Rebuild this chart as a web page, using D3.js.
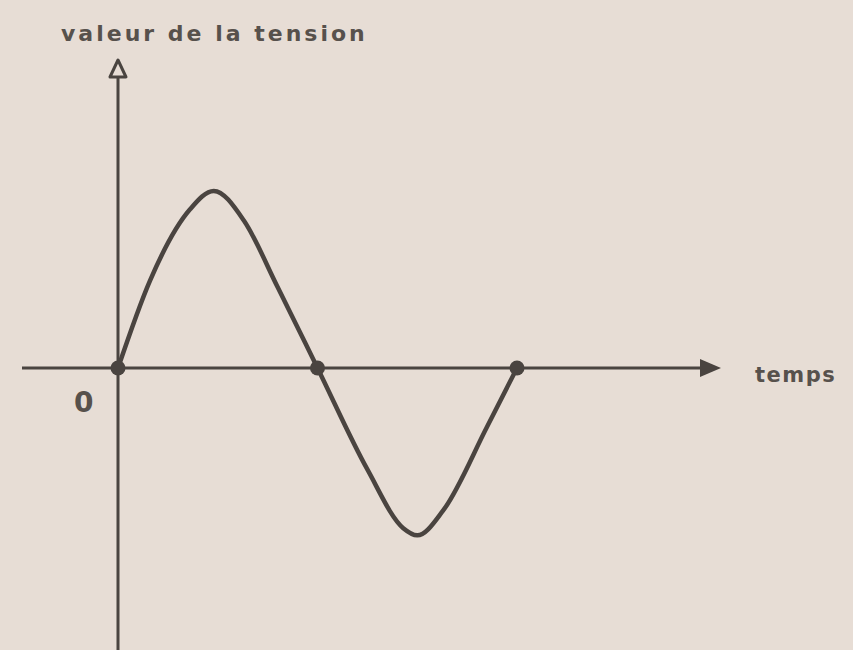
<!DOCTYPE html>
<html>
<head>
<meta charset="utf-8">
<script src="https://cdn.jsdelivr.net/npm/d3@7"></script>
<style>
  body { margin: 0; background: #e7ddd5; }
  svg { display: block; }
  .lbl { font-family: 'DejaVu Sans', sans-serif; font-weight: bold; fill: #57514c; }
</style>
</head>
<body>
<div id="chart"></div>
<script>
// Data (time in half-periods, tension relative to the peak)
const temps = [0, 0.16, 0.36, 0.48, 0.63, 0.8, 1, 1.25, 1.43, 1.5, 1.63, 1.85, 2];
const tension = [0, 0.49, 0.89, 0.995, 0.83, 0.455, 0, -0.57, -0.9, -0.94, -0.8, -0.33, 0];
const zeroPoints = [0, 1, 2];

const width = 853;
const height = 650;
const ink = '#4a4440';

const xScale = d3.scaleLinear([0, 2], [118, 517]);
const yScale = d3.scaleLinear([-1, 1], [546, 190]);

const svg = d3
  .select('#chart')
  .append('svg')
  .attr('width', width)
  .attr('height', height);

const x0 = xScale(0);
const y0 = yScale(0);

// x axis with filled arrow
svg.append('line')
  .attr('x1', 22).attr('x2', 705)
  .attr('y1', y0).attr('y2', y0)
  .attr('stroke', ink).attr('stroke-width', 3);
svg.append('path')
  .attr('d', `M${700},${y0 - 9}L${721},${y0}L${700},${y0 + 9}Z`)
  .attr('fill', ink);

// y axis with hollow arrow
svg.append('line')
  .attr('x1', x0).attr('x2', x0)
  .attr('y1', 77).attr('y2', height)
  .attr('stroke', ink).attr('stroke-width', 3);
svg.append('path')
  .attr('d', `M${x0 - 8},${77}L${x0},${60}L${x0 + 8},${77}Z`)
  .attr('fill', 'none')
  .attr('stroke', ink).attr('stroke-width', 3)
  .attr('stroke-linejoin', 'round');

// the wave
const line = d3.line()
  .x((d, i) => xScale(temps[i]))
  .y((d) => yScale(d))
  .curve(d3.curveMonotoneX);

svg.append('path')
  .datum(tension)
  .attr('d', line)
  .attr('fill', 'none')
  .attr('stroke', ink)
  .attr('stroke-width', 4.5)
  .attr('stroke-linecap', 'round')
  .attr('stroke-linejoin', 'round');

// zero crossings
svg.selectAll('circle')
  .data(zeroPoints)
  .join('circle')
  .attr('cx', (d) => xScale(d))
  .attr('cy', y0)
  .attr('r', 7.5)
  .attr('fill', ink);

// labels
svg.append('text')
  .attr('class', 'lbl')
  .attr('x', 61).attr('y', 41)
  .style('font-size', '22px')
  .style('letter-spacing', '3px')
  .text('valeur de la tension');

svg.append('text')
  .attr('class', 'lbl')
  .attr('x', 755).attr('y', 382)
  .style('font-size', '21px')
  .style('letter-spacing', '1.5px')
  .text('temps');

svg.append('text')
  .attr('class', 'lbl')
  .attr('x', 74).attr('y', 412)
  .style('font-size', '28px')
  .text('0');
</script>
</body>
</html>
